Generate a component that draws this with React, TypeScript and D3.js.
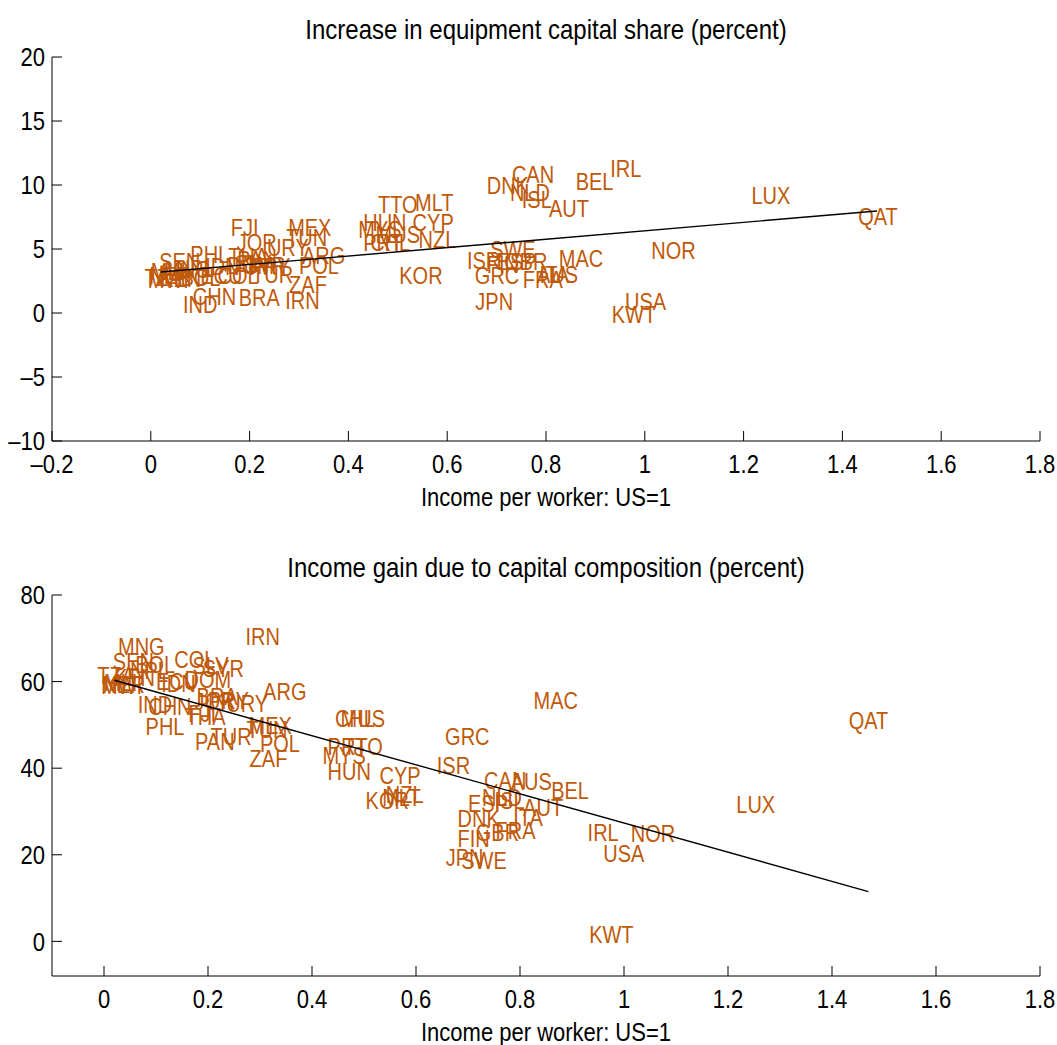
import React from "react";
import * as d3 from "d3";

const countries = ["QAT","LUX","IRL","BEL","CAN","DNK","NLD","ISL","AUT","NOR","MAC","USA","KWT","JPN","SWE","ISR","GRC","ESP","FIN","GBR","FRA","ITA","AUS","NZL","MLT","KOR","CYP","HUN","TTO","PRT","MYS","MUS","CHL","TZA","MWI","NER","MLI","KEN","SEN","MNG","NPL","BOL","ECU","IDN","COL","DOM","SLV","SYR","THA","PAN","PHL","CHN","IND","BRA","JOR","FJI","PRY","TUR","URY","TUN","MEX","ARG","POL","ZAF","IRN"];
const incomePerWorker = [1.432,1.216,0.93,0.86,0.731,0.68,0.727,0.751,0.806,1.013,0.826,0.96,0.933,0.657,0.687,0.64,0.656,0.70,0.68,0.715,0.753,0.787,0.782,0.542,0.535,0.503,0.53,0.43,0.46,0.43,0.42,0.455,0.444,-0.013,-0.006,-0.003,0.0,0.019,0.017,0.027,0.05,0.06,0.10,0.11,0.135,0.155,0.17,0.19,0.157,0.175,0.08,0.085,0.065,0.178,0.174,0.162,0.2,0.205,0.235,0.274,0.278,0.306,0.30,0.28,0.272];
const equipShareIncrease = [7.5,9.14,11.25,10.23,10.78,9.92,9.38,8.83,8.13,4.84,4.22,0.86,-0.16,0.86,4.92,4.06,2.9,4.0,3.75,4.0,2.6,2.97,2.97,5.7,8.6,2.9,7.1,7.1,8.5,5.5,6.5,6.1,5.5,2.8,2.6,2.9,3.2,2.7,4.0,3.4,3.5,2.8,2.9,3.6,2.9,3.7,3.9,3.7,4.4,4.2,4.6,1.25,0.63,1.17,5.47,6.64,3.6,3.0,5.1,5.86,6.64,4.45,3.67,2.19,1.0];
const incomeGain = [50.9,31.7,25.2,34.9,37.2,28.4,33.3,32.6,30.8,25.0,55.7,20.3,1.6,19.4,18.7,40.5,47.2,31.9,23.8,25.2,25.7,28.7,37.0,33.8,33.2,32.6,38.2,39.3,44.9,44.9,43.0,51.5,51.5,61.5,59.0,59.4,59.8,61.0,64.7,68.2,62.5,64.0,60.0,59.5,65.2,60.5,63.8,63.0,52.0,46.2,49.7,54.3,54.8,56.6,55.5,52.5,55.6,47.2,55.0,49.0,49.8,57.8,45.8,42.3,70.5];

const fitX = [0.02, 1.47];
const fitTop = [3.2, 7.97];
const fitBottom = [60.3, 11.5];

const topXTicks = [-0.2,0,0.2,0.4,0.6,0.8,1,1.2,1.4,1.6,1.8];
const topYTicks = [-10,-5,0,5,10,15,20];
const botXTicks = [0,0.2,0.4,0.6,0.8,1,1.2,1.4,1.6,1.8];
const botYTicks = [0,20,40,60,80];

const LABEL_COLOR = "rgb(191,89,8)";
const FONT = "'Liberation Sans', Arial, Helvetica, sans-serif";
const VS = 1.17;

function fmt(v: number) {
  const s = String(v);
  return v < 0 ? "\u2013" + s.slice(1) : s;
}

function T({ x, y, dy, anchor, size, fill, children }:
  { x: number; y: number; dy?: string; anchor?: string; size: number; fill?: string; children: React.ReactNode }) {
  return (
    <text transform={`translate(${x},${y}) scale(1,${VS})`} dy={dy} textAnchor={anchor || "start"} fontSize={size} fill={fill || "#000"}>{children}</text>
  );
}

function Panel({ top, bottom, xDomain, yDomain, xTicks, yTicks, ys, fitY, title }:
  { top: number; bottom: number; xDomain: number[]; yDomain: number[]; xTicks: number[]; yTicks: number[]; ys: number[]; fitY: number[]; title: string }) {
  const left = 52, right = 1040;
  const x = d3.scaleLinear().domain(xDomain).range([left, right]);
  const y = d3.scaleLinear().domain(yDomain).range([bottom, top]);
  const tick = 10;
  const line = d3.line<number>().x((_, i) => x(fitX[i])).y((d) => y(d));
  return (
    <g fontFamily={FONT}>
      <T x={(left + right) / 2} y={top - 18} anchor="middle" size={24}>{title}</T>
      <line x1={left} x2={left} y1={top} y2={bottom} stroke="#000" strokeWidth={1} />
      <line x1={left} x2={right} y1={bottom} y2={bottom} stroke="#000" strokeWidth={1} />
      {yTicks.map((t) => (
        <g key={"y" + t}>
          <line x1={left} x2={left + tick} y1={y(t)} y2={y(t)} stroke="#000" />
          <T x={left - 7} y={y(t)} dy="0.36em" anchor="end" size={22}>{fmt(t)}</T>
        </g>
      ))}
      {xTicks.map((t) => (
        <g key={"x" + t}>
          <line x1={x(t)} x2={x(t)} y1={bottom} y2={bottom - tick} stroke="#000" />
          <T x={x(t)} y={bottom + 23} dy="0.36em" anchor="middle" size={22}>{fmt(t)}</T>
        </g>
      ))}
      <T x={(left + right) / 2} y={bottom + 56} dy="0.36em" anchor="middle" size={22}>Income per worker: US=1</T>
      {countries.map((c, i) => (
        <T key={c} x={x(incomePerWorker[i])} y={y(ys[i])} dy="0.36em" size={20} fill={LABEL_COLOR}>{c}</T>
      ))}
      <path d={line(fitY) || ""} fill="none" stroke="#000" strokeWidth={1.4} />
    </g>
  );
}

export default function App() {
  return (
    <svg width={1057} height={1045} style={{ position: "absolute", left: 0, top: 0, background: "#fff" }}>
      <rect width={1057} height={1045} fill="#fff" />
      <Panel top={57} bottom={441} xDomain={[-0.2, 1.8]} yDomain={[-10, 20]} xTicks={topXTicks} yTicks={topYTicks} ys={equipShareIncrease} fitY={fitTop} title="Increase in equipment capital share (percent)" />
      <Panel top={595} bottom={976} xDomain={[-0.1, 1.8]} yDomain={[-8, 80]} xTicks={botXTicks} yTicks={botYTicks} ys={incomeGain} fitY={fitBottom} title="Income gain due to capital composition (percent)" />
    </svg>
  );
}
